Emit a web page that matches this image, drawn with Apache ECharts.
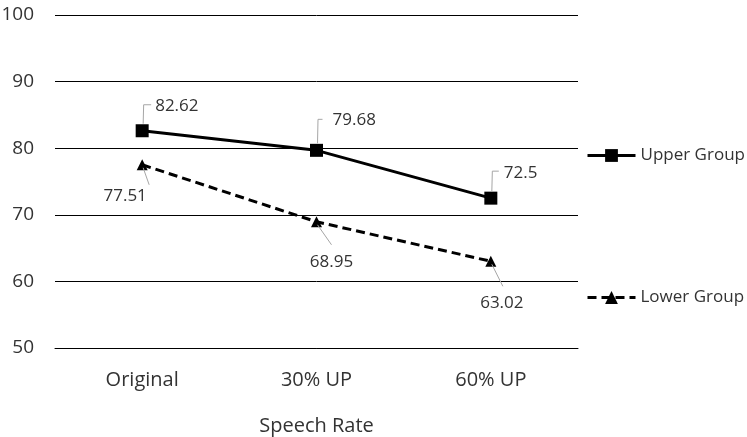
<!DOCTYPE html>
<html>
<head>
<meta charset="utf-8">
<script src="https://cdn.jsdelivr.net/npm/echarts@6/dist/echarts.min.js"></script>
<style>
  html, body { margin: 0; padding: 0; background: #fff; }
  #chart { width: 747px; height: 437px; }
</style>
</head>
<body>
<div id="chart"></div>
<script>
// Recognition scores by speech rate, for the two listener groups
const categories = ['Original', '30% UP', '60% UP'];
const upperGroup = [82.62, 79.68, 72.5];
const lowerGroup = [77.51, 68.95, 63.02];
const yMin = 50, yMax = 100, yStep = 10;

const FONT = '"Open Sans", "Noto Sans", sans-serif';
const TEXT = '#333333';
const GUIDE = '#a6a6a6';

// Callout placement (pixel offsets from each point): guide polyline and text anchor
const upperCallouts = [
  { line: [[1, -7], [1.5, -26], [9, -26]], text: [13, -25], align: 'left' },
  { line: [[1, -7], [1.5, -31], [6, -31]], text: [16, -30], align: 'left' },
  { line: [[1, -7], [1.5, -27], [8, -27]], text: [13, -25], align: 'left' }
];
const lowerCallouts = [
  { line: [[1, 3], [7, 20]], text: [-17, 31], align: 'center' },
  { line: [[1, 3], [15, 23]], text: [15, 40], align: 'center' },
  { line: [[1, 3], [12, 25]], text: [11, 42], align: 'center' }
];

function calloutSeries(values, callouts) {
  return {
    type: 'custom',
    silent: true,
    clip: false,
    z: 5,
    data: values.map((v, i) => [i, v]),
    renderItem(params, api) {
      const p = api.coord([api.value(0), api.value(1)]);
      const c = callouts[params.dataIndex];
      return {
        type: 'group',
        children: [
          {
            type: 'polyline',
            shape: { points: c.line.map(d => [p[0] + d[0], p[1] + d[1]]) },
            style: { stroke: GUIDE, lineWidth: 1, fill: null }
          },
          {
            type: 'text',
            x: p[0] + c.text[0],
            y: p[1] + c.text[1],
            style: {
              text: String(values[params.dataIndex]),
              font: '17px ' + FONT,
              fill: TEXT,
              align: c.align,
              verticalAlign: 'middle'
            }
          }
        ]
      };
    }
  };
}

const legendBase = {
  orient: 'vertical', left: 586, padding: 0,
  itemWidth: 48, itemHeight: 16, itemGap: 0,
  lineStyle: { width: 3 },
  textStyle: { fontFamily: FONT, fontSize: 17, color: TEXT }
};

const chart = echarts.init(document.getElementById('chart'));
chart.setOption({
  animation: false,
  backgroundColor: '#fff',
  grid: { left: 55, right: 169, top: 15, bottom: 89, containLabel: false, outerBoundsMode: 'none' },
  legend: [
    Object.assign({}, legendBase, { data: ['Upper Group'], top: 147 }),
    Object.assign({}, legendBase, { data: ['Lower Group'], top: 289 })
  ],
  xAxis: {
    type: 'category',
    data: categories,
    boundaryGap: true,
    name: 'Speech Rate',
    nameLocation: 'middle',
    nameGap: 68,
    nameTextStyle: { fontFamily: FONT, fontSize: 20, color: TEXT },
    axisLine: { lineStyle: { color: '#000', width: 1 } },
    axisTick: { show: false },
    axisLabel: { fontFamily: FONT, fontSize: 20, color: TEXT, margin: 22 }
  },
  yAxis: {
    type: 'value',
    min: yMin, max: yMax, interval: yStep,
    axisLine: { show: false },
    axisTick: { show: false },
    axisLabel: { fontFamily: FONT, fontSize: 19, color: TEXT, margin: 21 },
    splitLine: { lineStyle: { color: '#000', width: 1 } }
  },
  series: [
    {
      name: 'Upper Group',
      type: 'line',
      data: upperGroup,
      symbol: 'rect',
      symbolSize: 13,
      color: '#000',
      itemStyle: { color: '#000' },
      lineStyle: { color: '#000', width: 3 },
      z: 3
    },
    {
      name: 'Lower Group',
      type: 'line',
      data: lowerGroup,
      symbol: 'triangle',
      symbolSize: 11,
      color: '#000',
      itemStyle: { color: '#000' },
      lineStyle: { color: '#000', width: 3, type: [9, 5] },
      z: 3
    },
    calloutSeries(upperGroup, upperCallouts),
    calloutSeries(lowerGroup, lowerCallouts)
  ]
});
</script>
</body>
</html>
